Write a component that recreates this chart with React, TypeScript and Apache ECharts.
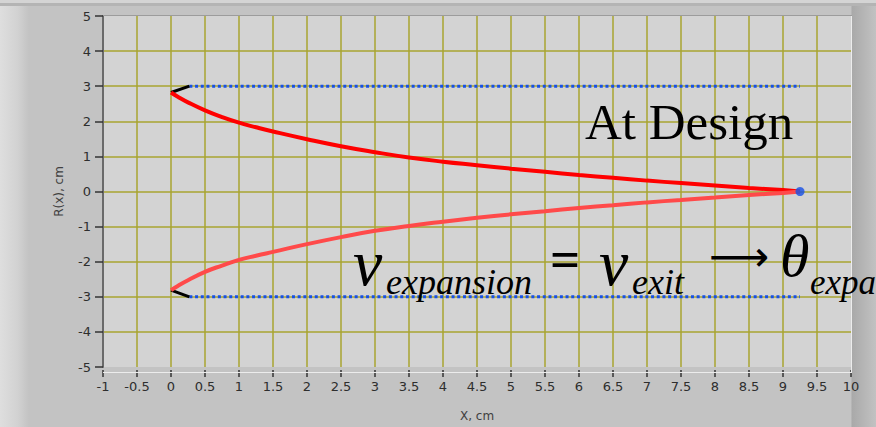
import React, { useEffect, useRef } from "react";
import * as echarts from "echarts";

// Nozzle wall contour, R(x) in cm along the axis X in cm
const profileX = [0, 0.1, 0.25, 0.5, 0.75, 1, 1.25, 1.5, 2, 2.5, 3, 3.5, 4, 4.5, 5, 5.5, 6, 6.5, 7, 7.5, 8, 8.5, 9, 9.25];
const upperR = [2.82, 2.7, 2.54, 2.31, 2.12, 1.96, 1.83, 1.71, 1.49, 1.29, 1.12, 0.97, 0.85, 0.75, 0.65, 0.56, 0.47, 0.39, 0.31, 0.24, 0.17, 0.1, 0.04, 0];
const lowerR = [-2.81, -2.69, -2.53, -2.29, -2.11, -1.95, -1.83, -1.72, -1.5, -1.3, -1.12, -0.98, -0.86, -0.75, -0.65, -0.56, -0.47, -0.39, -0.31, -0.24, -0.17, -0.1, -0.04, 0];

// Throat lip segments and design-radius reference lines
const lipUpper = [[0, 2.82], [0.27, 3]];
const lipLower = [[0, -2.81], [0.27, -3]];
const designUpper = [[0.27, 3], [9.25, 3]];
const designLower = [[0.27, -3], [9.25, -3]];
const exitPoint = [[9.25, 0]];

const xRange = [-1, 10];
const yRange = [-5, 5];

const GRID = { left: 103, right: 25, top: 16, bottom: 55 };
const W = 876;
const H = 427;

const serif = "'Liberation Serif', 'DejaVu Serif', serif";
const sans = "'DejaVu Sans', sans-serif";

export default function App() {
  const ref = useRef<HTMLDivElement>(null);

  useEffect(() => {
    document.body.style.margin = "0";
    if (!ref.current) return;
    const chart = echarts.init(ref.current, undefined, { renderer: "svg" });

    const px0 = GRID.left;
    const px1 = W - GRID.right;
    const py0 = GRID.top;
    const py1 = H - GRID.bottom;

    const gridColor = "#a9a430";
    const labelColor = "#2e2e2e";

    const eqText = (text: string, x: number, y: number, size: number, italic = true, bold = false, family = serif) => ({
      type: "text",
      x,
      y,
      z: 100,
      style: {
        text,
        fill: "#000",
        font: `${italic ? "italic " : ""}${bold ? "bold " : ""}${size}px ${family}`,
        verticalAlign: "middle",
        align: "left",
      },
    });

    // panel shading: light left bevel, flat face, darker strip on the right
    const r = px1 / W;
    const panel = new echarts.graphic.LinearGradient(0, 0, 1, 0, [
      { offset: 0, color: "#dedede" },
      { offset: 0.02, color: "#d2d2d2" },
      { offset: 0.033, color: "#c3c3c3" },
      { offset: r, color: "#c3c3c3" },
      { offset: r + 0.001, color: "#a9a9a9" },
      { offset: 1, color: "#c2c2c2" },
    ]);

    chart.setOption({
      animation: false,
      backgroundColor: panel,
      graphic: [
        { type: "rect", z: -10, shape: { x: 0, y: 0, width: W, height: 3 }, style: { fill: "#d4d4d4" }, silent: true },
        { type: "rect", z: -10, shape: { x: 0, y: 3, width: W, height: 3 }, style: { fill: "#b4b4b4" }, silent: true },
        // sunken plot border
        { type: "line", z: 50, shape: { x1: px0, y1: py0 - 0.5, x2: px1 + 1, y2: py0 - 0.5 }, style: { stroke: "#9c9c9c", lineWidth: 1 }, silent: true },
        { type: "line", z: 50, shape: { x1: px0, y1: py1 + 0.5, x2: px1 + 1, y2: py1 + 0.5 }, style: { stroke: "#ececec", lineWidth: 1 }, silent: true },
        { type: "line", z: 50, shape: { x1: px1 + 0.5, y1: py0, x2: px1 + 0.5, y2: py1 + 1 }, style: { stroke: "#ececec", lineWidth: 1 }, silent: true },
        // annotations
        {
          type: "text",
          x: 585,
          y: 122,
          z: 100,
          style: { text: "At Design", fill: "#000", font: `51px ${serif}`, verticalAlign: "middle", align: "left" },
        },
        eqText("ν", 353, 262, 66),
        eqText("expansion", 386, 282, 36),
        eqText("=", 550, 259, 53, false, true),
        eqText("ν", 599, 262, 66),
        eqText("exit", 632, 282, 36),
        eqText("⟶", 709, 256, 42, false, false, "'DejaVu Sans', sans-serif"),
        eqText("θ", 780, 256, 60),
        eqText("expa", 810, 282, 35),
      ],
      grid: {
        ...GRID,
        show: true,
        backgroundColor: "#d3d3d3",
        borderWidth: 0,
      },
      xAxis: {
        type: "value",
        min: xRange[0],
        max: xRange[1],
        interval: 0.5,
        offset: 3,
        name: "X, cm",
        nameLocation: "middle",
        nameGap: 40,
        nameTextStyle: { fontFamily: sans, fontSize: 12, color: "#404040" },
        axisLine: { show: false, onZero: false },
        axisTick: { show: true, length: 7, lineStyle: { color: "#333", width: 1.5 } },
        axisLabel: { margin: 10, fontFamily: sans, fontSize: 13, color: labelColor },
        splitLine: { show: true, showMinLine: false, showMaxLine: false, lineStyle: { color: gridColor, width: 1.5 } },
      },
      yAxis: {
        type: "value",
        min: yRange[0],
        max: yRange[1],
        interval: 1,
        name: "R(x), cm",
        nameLocation: "middle",
        nameGap: 38,
        nameRotate: 90,
        nameTextStyle: { fontFamily: sans, fontSize: 12, color: "#404040" },
        axisLine: { show: true, onZero: false, lineStyle: { color: "#6a6a6a", width: 2 } },
        axisTick: { show: true, length: 8, lineStyle: { color: "#333", width: 1.5 } },
        axisLabel: { margin: 12, fontFamily: sans, fontSize: 13, color: labelColor },
        splitLine: { show: true, showMinLine: false, showMaxLine: false, lineStyle: { color: gridColor, width: 1.5 } },
      },
      series: [
        {
          type: "line",
          data: designUpper,
          showSymbol: false,
          lineStyle: { color: "#1650e6", width: 3, type: [3, 2.7], cap: "butt" },
          z: 3,
        },
        {
          type: "line",
          data: designLower,
          showSymbol: false,
          lineStyle: { color: "#1650e6", width: 3, type: [3, 2.7], cap: "butt" },
          z: 3,
        },
        {
          type: "line",
          data: lipUpper,
          showSymbol: false,
          lineStyle: { color: "#000", width: 3 },
          z: 4,
        },
        {
          type: "line",
          data: lipLower,
          showSymbol: false,
          lineStyle: { color: "#000", width: 3 },
          z: 4,
        },
        {
          type: "line",
          data: profileX.map((x, i) => [x, upperR[i]]),
          showSymbol: false,
          smooth: 0.5,
          lineStyle: { color: "#ff0000", width: 4 },
          z: 5,
        },
        {
          type: "line",
          data: profileX.map((x, i) => [x, lowerR[i]]),
          showSymbol: false,
          smooth: 0.5,
          lineStyle: { color: "#ff4a4a", width: 4 },
          z: 5,
        },
        {
          type: "scatter",
          data: exitPoint,
          symbolSize: 9,
          itemStyle: { color: "#1650e6" },
          z: 6,
        },
      ],
    });

    return () => chart.dispose();
  }, []);

  return <div ref={ref} style={{ width: W, height: H }} />;
}
